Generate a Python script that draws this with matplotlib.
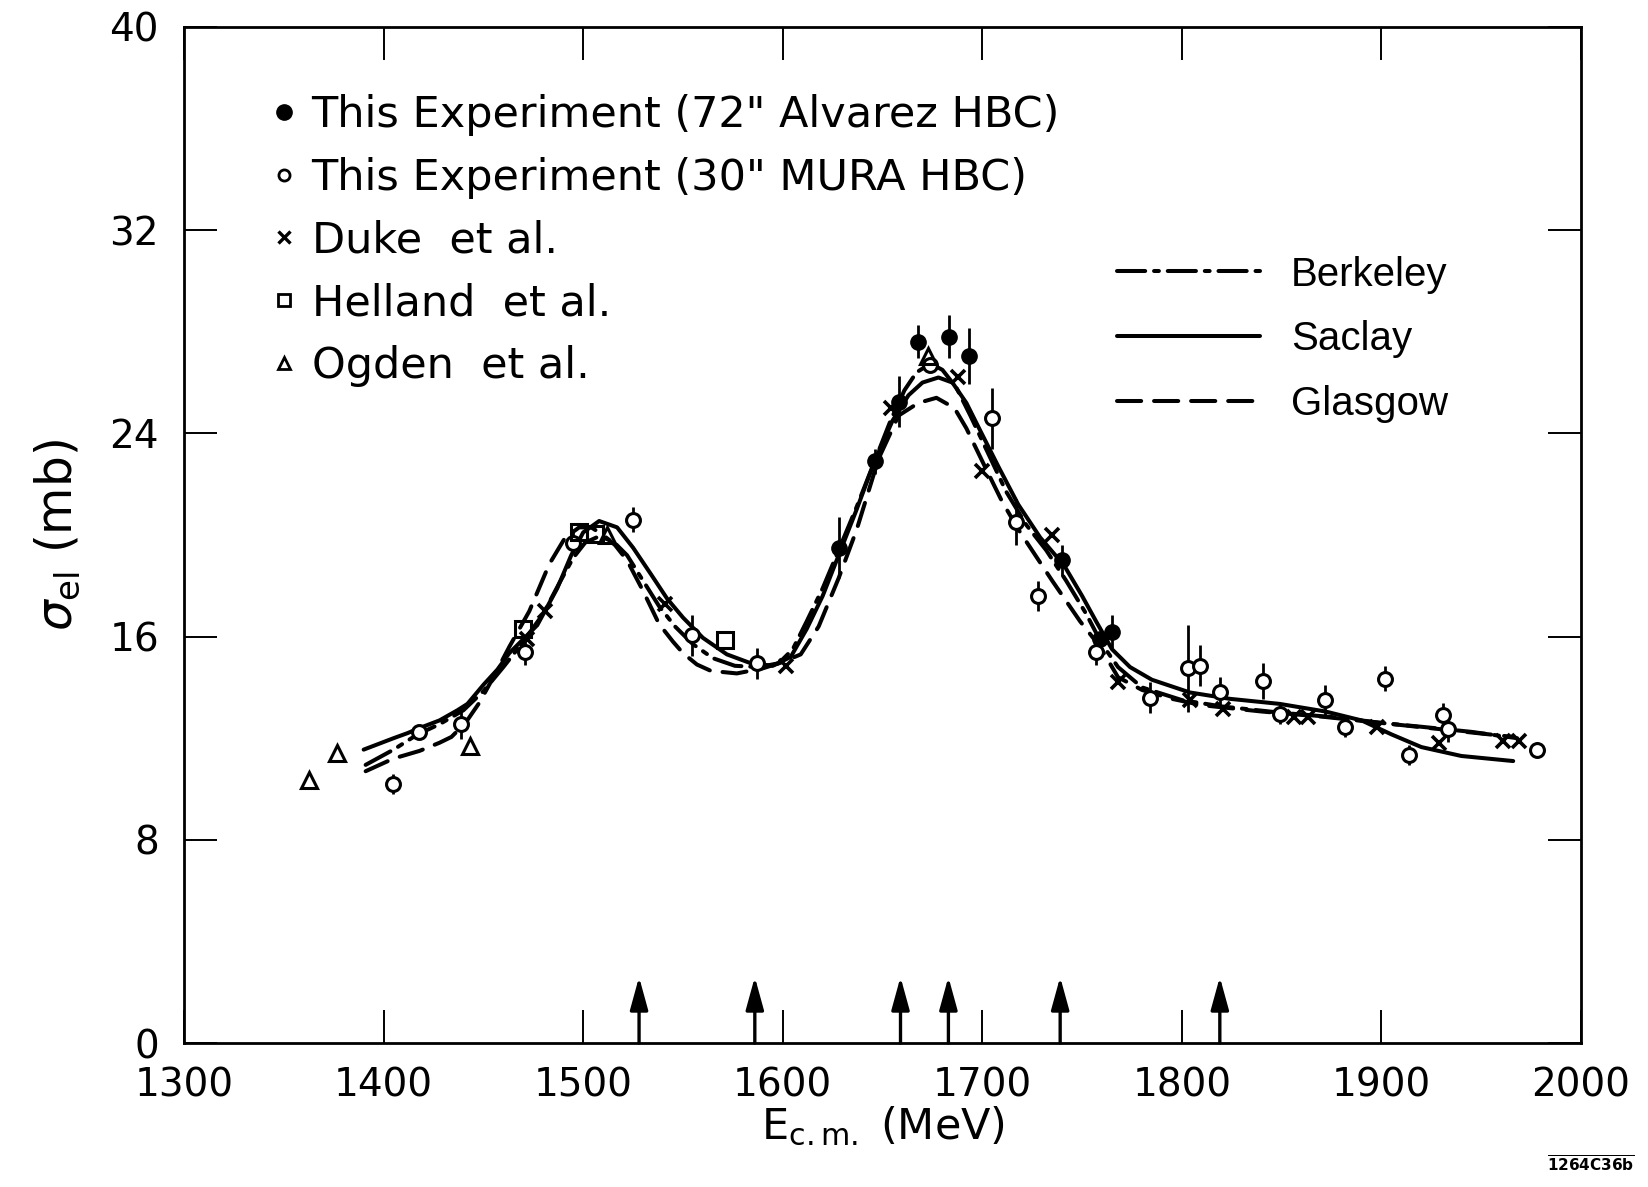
import numpy as np
import matplotlib
matplotlib.use('Agg')
import matplotlib.pyplot as plt
from matplotlib.lines import Line2D

plt.rcParams['font.family'] = ['DejaVu Sans']
plt.rcParams['mathtext.fontset'] = 'dejavusans'

# data (E_cm in MeV, sigma_el in mb)
alv_E = [1628, 1646, 1658, 1668, 1683.5, 1693.5, 1740, 1759, 1765]
alv_s = [19.5, 22.9, 25.25, 27.6, 27.8, 27.05, 19.0, 15.9, 16.2]
alv_err = [1.2, 0.5, 1.0, 0.65, 0.85, 1.1, 0.6, 0.0, 0.65]

mura_E = [1404.7, 1417.5, 1439, 1471, 1495, 1525, 1554.5, 1587, 1674, 1705, 1717, 1728,
          1757, 1784, 1803, 1809, 1819, 1840.6, 1849, 1871.6, 1881.7, 1901.7, 1914,
          1930.8, 1933.3, 1978]
mura_s = [10.2, 12.25, 12.55, 15.4, 19.7, 20.6, 16.05, 14.95, 26.7, 24.6, 20.5, 17.6,
          15.4, 13.6, 14.75, 14.85, 13.8, 14.25, 12.95, 13.5, 12.45, 14.35, 11.35,
          12.9, 12.35, 11.55]
mura_err = [0.4, 0.0, 0.6, 0.5, 0.4, 0.5, 0.8, 0.6, 0.0, 1.2, 0.9, 0.6,
            0.5, 0.6, 1.7, 0.8, 0.6, 0.7, 0.4, 0.6, 0.4, 0.5, 0.4,
            0.5, 0.5, 0.3]

duke_E = [1472, 1481, 1541, 1601.5, 1654, 1688, 1700, 1735, 1768, 1804, 1820.5, 1856,
          1863, 1897.7, 1929, 1961, 1969]
duke_s = [15.9, 17.0, 17.3, 14.85, 25.0, 26.2, 22.5, 20.0, 14.2, 13.5, 13.15, 12.85,
          12.85, 12.45, 11.8, 11.9, 11.9]

hel_E = [1470, 1498, 1506, 1571]
hel_s = [16.3, 20.1, 20.05, 15.85]

ogd_E = [1362.6, 1376.7, 1443.3, 1512, 1673]
ogd_s = [10.35, 11.4, 11.7, 20.0, 27.05]

# fitted curves
sac_E = [1390, 1405, 1412, 1418, 1428, 1437, 1442, 1450, 1457, 1463, 1470, 1477, 1487, 1494,
         1500, 1508, 1517, 1525, 1534, 1542, 1550, 1560, 1572, 1584, 1595, 1604, 1612, 1620,
         1628, 1637, 1646, 1655, 1663, 1670, 1678, 1685, 1692, 1699, 1708, 1718, 1729, 1741,
         1750, 1757, 1765, 1774, 1785, 1804, 1824, 1849, 1872, 1890, 1905, 1920, 1940, 1966]
sac_s = [11.55, 12.0, 12.2, 12.4, 12.7, 13.1, 13.35, 14.1, 14.7, 15.35, 15.9, 16.45, 17.9, 19.2,
         20.1, 20.55, 20.3, 19.5, 18.45, 17.5, 16.75, 15.95, 15.3, 14.95, 14.85, 15.2, 16.3, 17.6,
         19.2, 21.0, 22.9, 24.5, 25.5, 26.0, 26.2, 26.0, 25.2, 24.1, 22.7, 21.2, 19.9, 18.8,
         17.6, 16.6, 15.5, 14.8, 14.3, 13.8, 13.55, 13.35, 13.05, 12.7, 12.15, 11.65, 11.3, 11.1]

brk_E = [1391, 1405, 1417, 1428, 1440, 1450, 1460, 1470, 1480, 1488, 1495, 1501, 1508, 1515,
         1522, 1530, 1538, 1546, 1555, 1565, 1576, 1588, 1598, 1605, 1612, 1620, 1628, 1637,
         1646, 1654, 1661, 1667, 1674, 1680, 1687, 1694, 1703, 1712, 1722, 1732, 1742, 1752,
         1760, 1768, 1780, 1800, 1820, 1850, 1880, 1900, 1920, 1945, 1968]
brk_s = [10.95, 11.55, 12.15, 12.55, 13.1, 13.85, 14.8, 15.8, 16.9, 18.1, 19.1, 19.7, 19.95, 19.75,
         19.2, 18.2, 17.2, 16.4, 15.7, 15.15, 14.85, 14.8, 14.95, 15.5, 16.6, 17.9, 19.4, 21.1,
         22.9, 24.5, 25.7, 26.4, 26.75, 26.5, 25.8, 24.7, 23.2, 21.7, 20.4, 19.4, 18.2, 16.9,
         15.7, 14.8, 14.0, 13.5, 13.25, 13.0, 12.8, 12.6, 12.45, 12.25, 12.0]

gla_E = [1391, 1405, 1418, 1428, 1434, 1441, 1448, 1455, 1463, 1473, 1483, 1491, 1498, 1504,
         1510, 1516, 1522, 1530, 1538, 1545, 1550, 1557, 1564, 1577, 1590, 1600, 1609, 1618,
         1628, 1637, 1648, 1658, 1668, 1677, 1686, 1692, 1700, 1710, 1719, 1735, 1749, 1759,
         1768, 1780, 1795, 1810, 1840, 1870, 1900, 1930, 1966]
gla_s = [10.7, 11.2, 11.5, 11.82, 12.05, 12.6, 13.4, 14.4, 15.6, 17.0, 18.85, 19.9, 20.3, 20.3,
         20.0, 19.6, 19.0, 17.8, 16.5, 15.8, 15.35, 14.9, 14.65, 14.55, 14.75, 15.0, 15.3, 16.4,
         18.3, 20.2, 23.0, 24.7, 25.2, 25.4, 25.0, 24.2, 22.9, 21.3, 20.1, 18.2, 16.6, 15.6,
         14.4, 13.9, 13.55, 13.3, 13.05, 12.85, 12.6, 12.35, 12.05]

arrow_E = [1528, 1586, 1659, 1683, 1739, 1819]
arrow_top = 2.6

xticks = [1300, 1400, 1500, 1600, 1700, 1800, 1900, 2000]
yticks = [0, 8, 16, 24, 32, 40]

LW = 2.9
style_sac = dict(color='black', lw=LW, ls='-', solid_capstyle='round')
style_brk = dict(color='black', lw=LW, dashes=(7, 2.2, 1.2, 2.2), dash_capstyle='round')
style_gla = dict(color='black', lw=LW, dashes=(6, 3.2), dash_capstyle='round')

fig = plt.figure(figsize=(16.49, 11.87), dpi=100)
ax = fig.add_axes([0.1116, 0.1213, 0.8472, 0.856])

ax.plot(sac_E, sac_s, zorder=2, **style_sac)
ax.plot(brk_E, brk_s, zorder=2, **style_brk)
ax.plot(gla_E, gla_s, zorder=2, **style_gla)

# error bars
ax.errorbar(alv_E, alv_s, yerr=alv_err, fmt='none', ecolor='black', elinewidth=2.0, capsize=0, zorder=3)
ax.errorbar(mura_E, mura_s, yerr=mura_err, fmt='none', ecolor='black', elinewidth=2.0, capsize=0, zorder=3)

# markers
ax.plot(alv_E, alv_s, 'o', ms=11, color='black', zorder=5)
ax.plot(mura_E, mura_s, 'o', ms=10, mfc='white', mec='black', mew=2.2, zorder=5)
ax.plot(duke_E, duke_s, 'x', ms=10, color='black', mew=2.6, zorder=5)
ax.plot(hel_E, hel_s, 's', ms=11, mfc='none', mec='black', mew=2.2, zorder=5)
ax.plot(ogd_E, ogd_s, '^', ms=11, mfc='none', mec='black', mew=2.2, zorder=5)

# arrows along the energy axis
for e in arrow_E:
    ax.annotate('', xy=(e, arrow_top), xytext=(e, 0),
                arrowprops=dict(arrowstyle='-|>,head_length=0.8,head_width=0.22',
                                mutation_scale=25, lw=2.4, color='black',
                                shrinkA=0, shrinkB=0))

ax.set_xlim(1300, 2000)
ax.set_ylim(0, 40)
ax.set_xticks(xticks)
ax.set_yticks(yticks)
ax.tick_params(direction='in', length=24, width=1.4, top=True, right=True,
               labelsize=28)
ax.tick_params(axis='x', pad=17)
ax.tick_params(axis='y', pad=18)
for sp in ax.spines.values():
    sp.set_linewidth(2.0)

ax.set_xlabel(r'E$_{\rm c.m.}$ (MeV)', fontsize=31, labelpad=0)
ax.set_ylabel(r'$\sigma_{\rm el}$ (mb)', fontsize=35, labelpad=20)

# legend for data symbols
h1 = [Line2D([], [], ls='none', marker='o', ms=11, color='black'),
      Line2D([], [], ls='none', marker='o', ms=8, mfc='white', mec='black', mew=2),
      Line2D([], [], ls='none', marker='x', ms=8, color='black', mew=2.4),
      Line2D([], [], ls='none', marker='s', ms=9, mfc='none', mec='black', mew=2),
      Line2D([], [], ls='none', marker='^', ms=9, mfc='none', mec='black', mew=2)]
l1 = ['This Experiment (72" Alvarez HBC)', 'This Experiment (30" MURA HBC)',
      'Duke  et al.', 'Helland  et al.', 'Ogden  et al.']
leg1 = ax.legend(h1, l1, loc='upper left', bbox_to_anchor=(0.062, 0.934), frameon=False,
                 fontsize=31, handlelength=0.6, handletextpad=0.35, labelspacing=0.48,
                 borderpad=0, borderaxespad=0)
ax.add_artist(leg1)

# legend for curves
h2 = [Line2D([], [], **style_brk), Line2D([], [], **style_sac), Line2D([], [], **style_gla)]
l2 = ['Berkeley', 'Saclay', 'Glasgow']
ax.legend(h2, l2, loc='upper left', bbox_to_anchor=(0.668, 0.775), frameon=False,
          prop=dict(family=['Liberation Sans', 'DejaVu Sans'], size=29),
          handlelength=3.55, handletextpad=0.76, labelspacing=0.66,
          borderpad=0, borderaxespad=0)

fig.text(0.965, 0.019, r'$\overline{\mathbf{1264C36b}}$', fontsize=11, ha='center', va='center')

fig.savefig('out.png', dpi=100)
